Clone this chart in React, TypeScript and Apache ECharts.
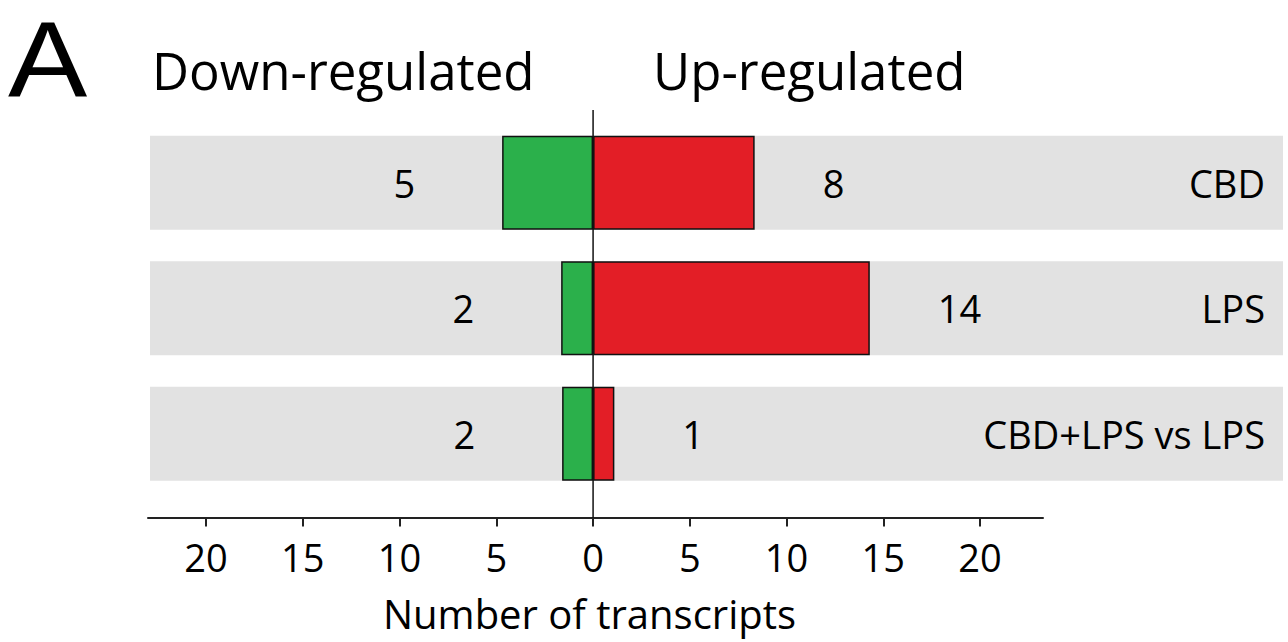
import React, { useEffect, useRef } from "react";
import * as echarts from "echarts";

const categories = ["CBD", "LPS", "CBD+LPS vs LPS"];
const downCounts = [5, 2, 2];
const upCounts = [8, 14, 1];
// bar lengths as drawn in the figure
const downBarLengths = [4.7, 1.65, 1.6];
const upBarLengths = [8.35, 14.3, 1.1];
const tickValues = [-20, -15, -10, -5, 0, 5, 10, 15, 20];

const FONT = "'Open Sans', 'Noto Sans', sans-serif";

export default function App() {
  const ref = useRef<HTMLDivElement>(null);
  useEffect(() => {
    if (!ref.current) return;
    const chart = echarts.init(ref.current, undefined, { renderer: "svg" });
    chart.setOption({
      animation: false,
      backgroundColor: "#ffffff",
      textStyle: { fontFamily: FONT },
      grid: { left: 148, top: 120, width: 895, height: 376.5 },
      xAxis: {
        type: "value",
        min: -23,
        max: 23.25,
        position: "bottom",
        offset: 21,
        axisLine: { show: true, lineStyle: { color: "#222", width: 2 } },
        axisTick: { show: true, customValues: tickValues, length: 9, lineStyle: { color: "#222", width: 2 } },
        axisLabel: {
          customValues: tickValues,
          formatter: (v: number) => String(Math.abs(v)),
          fontSize: 38,
          margin: 20,
          color: "#000",
          fontFamily: FONT,
        },
        splitLine: { show: false },
        name: "Number of transcripts",
        nameLocation: "middle",
        nameGap: 76,
        nameTextStyle: { fontSize: 40, color: "#000", fontFamily: FONT, padding: [0, 12, 0, 0] },
      },
      yAxis: {
        type: "category",
        data: categories,
        inverse: true,
        position: "right",
        offset: 222,
        z: 10,
        axisLine: { show: false },
        axisTick: { show: false },
        axisLabel: { inside: true, margin: 0, fontSize: 38, color: "#000", fontFamily: FONT },
        splitLine: { show: false },
      },
      graphic: [
        {
          type: "text",
          x: 8,
          y: 59,
          scaleX: 1.1,
          style: {
            text: "A",
            fontSize: 108,
            fontFamily: "'Liberation Sans', Arial, sans-serif",
            fill: "#000",
            verticalAlign: "middle",
            align: "left",
          },
        },
        {
          type: "text",
          x: 152,
          y: 70,
          style: { text: "Down-regulated", fontSize: 51, fontFamily: FONT, fill: "#000", verticalAlign: "middle", align: "left" },
        },
        {
          type: "text",
          x: 653,
          y: 70,
          style: { text: "Up-regulated", fontSize: 51, fontFamily: FONT, fill: "#000", verticalAlign: "middle", align: "left" },
        },
      ],
      series: [
        {
          type: "custom",
          z: 1,
          silent: true,
          clip: false,
          data: categories.map((_, i) => [0, i]),
          encode: { x: 0, y: 1 },
          renderItem: (_params: any, api: any) => {
            const c = api.coord([0, api.value(1)]);
            const h = api.size([0, 1])[1] * 0.75;
            return {
              type: "rect",
              shape: { x: 150, y: c[1] - h / 2, width: 1133, height: h },
              style: { fill: "#e2e2e2" },
            };
          },
        },
        {
          type: "bar",
          name: "Down-regulated",
          z: 2,
          data: downBarLengths.map((v) => -v),
          barWidth: "75%",
          barGap: "-100%",
          itemStyle: { color: "#2bb04b", borderColor: "#111", borderWidth: 1.5 },
          label: {
            show: true,
            position: "left",
            distance: 87,
            fontSize: 38,
            color: "#000",
            fontFamily: FONT,
            formatter: (p: any) => String(downCounts[p.dataIndex]),
          },
        },
        {
          type: "bar",
          name: "Up-regulated",
          z: 2,
          data: upBarLengths,
          barWidth: "75%",
          barGap: "-100%",
          itemStyle: { color: "#e31e26", borderColor: "#111", borderWidth: 1.5 },
          label: {
            show: true,
            position: "right",
            distance: 68,
            fontSize: 38,
            color: "#000",
            fontFamily: FONT,
            formatter: (p: any) => String(upCounts[p.dataIndex]),
          },
        },
        {
          type: "custom",
          z: 5,
          silent: true,
          clip: false,
          data: [[0, 0]],
          encode: { x: 0, y: 1 },
          renderItem: (_params: any, api: any) => {
            const x = api.coord([api.value(0), 0])[0];
            return {
              type: "line",
              shape: { x1: x, y1: 110, x2: x, y2: 518 },
              style: { stroke: "#111", lineWidth: 1.5 },
            };
          },
        },
      ],
    });
    return () => chart.dispose();
  }, []);
  return (
    <div
      ref={ref}
      style={{ position: "fixed", left: 0, top: 0, width: 1288, height: 642 }}
    />
  );
}
